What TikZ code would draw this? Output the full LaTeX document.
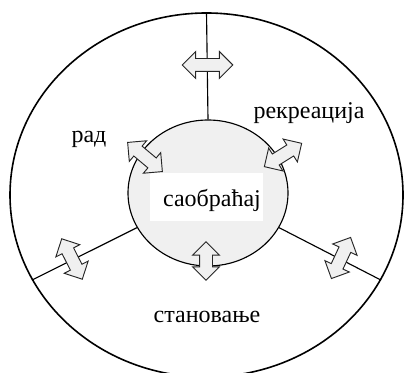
\documentclass[tikz,border=0pt]{standalone}
\usepackage{fontspec}
\setmainfont{Liberation Serif}
\usetikzlibrary{shapes.geometric,shapes.arrows}
\begin{document}
\begin{tikzpicture}[x=0.75pt,y=-0.75pt,
  dbl/.style={double arrow, draw=black!85, fill=black!6, line width=0.7pt,
    minimum height=#1, inner xsep=0pt, inner ysep=4.5pt,
    double arrow head extend=5.25pt},
  lbl/.style={font=\fontsize{18}{22}\selectfont, inner sep=0pt, anchor=base},
  spoke/.style={line width=0.85pt}
]
\useasboundingbox (0,0) rectangle (406,373);
% outer ellipse
\node[ellipse, draw, line width=1.2pt, minimum width=294.75pt, minimum height=273pt, inner sep=0pt]
  (outer) at (206.5,195) {};
% inner circle
\node[ellipse, draw, fill=black!6, line width=0.85pt, minimum width=120pt, minimum height=109.5pt, inner sep=0pt]
  (core) at (208,193) {};
% spokes
\draw[spoke] (core.north) -- (outer.north);
\draw[spoke] (core.206) -- (outer.206);
\draw[spoke] (core.334) -- (outer.334);
% label background
\fill[white] (150,173) rectangle (263,221);
% labels
\node[lbl] (tsao) at (212,207) {саобраћај};
\node[lbl] (trad) at (89,143) {рад};
\node[lbl] (trek) at (309,119) {рекреација};
\node[lbl] (tstan) at (207,323) {становање};
% double arrows
\node[dbl=38pt] (a1) at (207.5,65) {};
\node[dbl=34pt, rotate=-40] (a2) at (145,157) {};
\node[dbl=33pt, rotate=32] (a3) at (283,155) {};
\node[dbl=29pt, rotate=90] (a4) at (206,261) {};
\node[dbl=34pt, rotate=-63] (a5) at (72,259) {};
\node[dbl=34pt, rotate=65] (a6) at (341,258) {};
\end{tikzpicture}
\end{document}
